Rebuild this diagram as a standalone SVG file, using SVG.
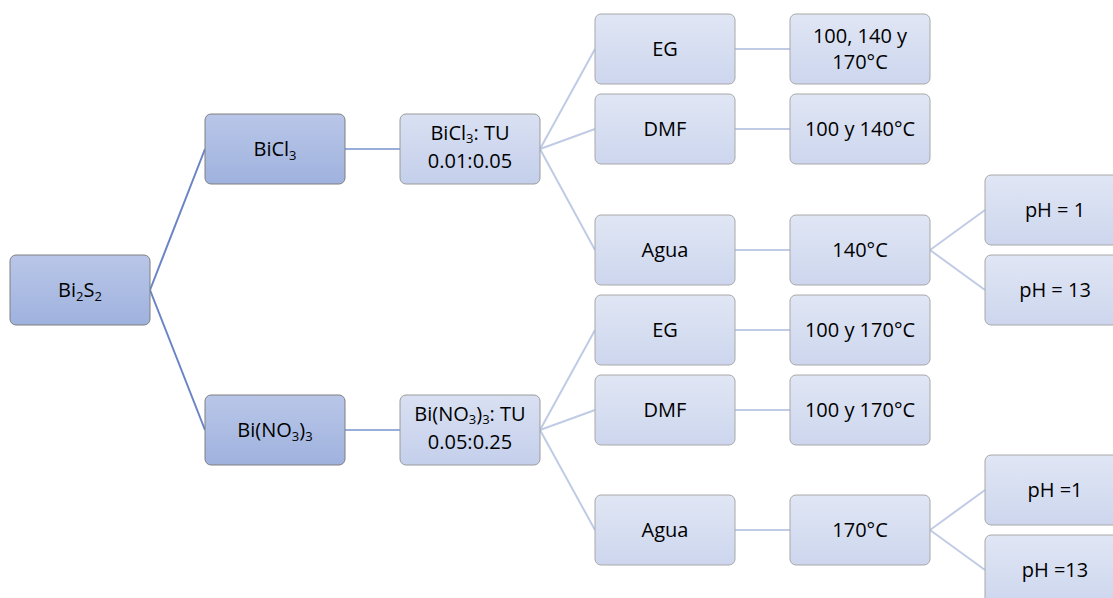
<svg xmlns="http://www.w3.org/2000/svg" width="1113" height="598" viewBox="0 0 1113 598">
<defs>
<linearGradient id="gDark" x1="0" y1="0" x2="0" y2="1"><stop offset="0" stop-color="#b9c6e8"/><stop offset="1" stop-color="#9fb2de"/></linearGradient>
<linearGradient id="gMid" x1="0" y1="0" x2="0" y2="1"><stop offset="0" stop-color="#d9e0f2"/><stop offset="1" stop-color="#c4cfeb"/></linearGradient>
<linearGradient id="gLight" x1="0" y1="0" x2="0" y2="1"><stop offset="0" stop-color="#e0e6f4"/><stop offset="1" stop-color="#cdd6ee"/></linearGradient>
</defs>
<style>
.d{fill:url(#gDark);stroke:#7f7f7f;stroke-width:1}
.m{fill:url(#gMid);stroke:#9a9a9a;stroke-width:1}
.l{fill:url(#gLight);stroke:#a8a8a8;stroke-width:1}
text{font-family:"Open Sans","Liberation Sans",sans-serif;font-size:20px;fill:#000;text-anchor:middle}
.s{font-size:13px}
.c1{stroke:#6b84c6;stroke-width:2;fill:none}
.c2{stroke:#9aaedb;stroke-width:2;fill:none}
.c3{stroke:#c0cbe5;stroke-width:2;fill:none}
</style>
<g id="connectors">
<path class="c1" d="M150,290 L205,149 M150,290 L205,430"/>
<path class="c2" d="M345,149 H400 M345,430 H400"/>
<path class="c3" d="M540,149 L595,49 M540,149 L595,129 M540,149 L595,250"/>
<path class="c3" d="M540,430 L595,330 M540,430 L595,410 M540,430 L595,530"/>
<path class="c3" d="M735,49 H790 M735,129 H790 M735,250 H790 M735,330 H790 M735,410 H790 M735,530 H790"/>
<path class="c3" d="M930,250 L985,210 M930,250 L985,290 M930,530 L985,490 M930,530 L985,570"/>
</g>
<g id="n_bi2s2"><rect class="d" x="10" y="255" width="140" height="70" rx="6"/><text x="80" y="297">Bi<tspan class="s" dy="4">2</tspan><tspan dy="-4">S</tspan><tspan class="s" dy="4">2</tspan></text></g>
<g id="n_bicl3"><rect class="d" x="205" y="114" width="140" height="70" rx="6"/><text x="275" y="156">BiCl<tspan class="s" dy="4">3</tspan></text></g>
<g id="n_bino3"><rect class="d" x="205" y="395" width="140" height="70" rx="6"/><text x="275" y="437">Bi(NO<tspan class="s" dy="4">3</tspan><tspan dy="-4">)</tspan><tspan class="s" dy="4">3</tspan></text></g>
<g id="n_bicl3tu"><rect class="m" x="400" y="114" width="140" height="70" rx="6"/><text x="470" y="140">BiCl<tspan class="s" dy="3">3</tspan><tspan dy="-3">: TU</tspan></text><text x="470" y="168">0.01:0.05</text></g>
<g id="n_bino3tu"><rect class="m" x="400" y="395" width="140" height="70" rx="6"/><text x="470" y="421">Bi(NO<tspan class="s" dy="3">3</tspan><tspan dy="-3">)</tspan><tspan class="s" dy="3">3</tspan><tspan dy="-3">: TU</tspan></text><text x="470" y="449">0.05:0.25</text></g>
<g id="n_eg1"><rect class="l" x="595" y="14" width="140" height="70" rx="6"/><text x="665" y="56">EG</text></g>
<g id="n_dmf1"><rect class="l" x="595" y="94" width="140" height="70" rx="6"/><text x="665" y="136">DMF</text></g>
<g id="n_agua1"><rect class="l" x="595" y="215" width="140" height="70" rx="6"/><text x="665" y="257">Agua</text></g>
<g id="n_eg2"><rect class="l" x="595" y="295" width="140" height="70" rx="6"/><text x="665" y="337">EG</text></g>
<g id="n_dmf2"><rect class="l" x="595" y="375" width="140" height="70" rx="6"/><text x="665" y="417">DMF</text></g>
<g id="n_agua2"><rect class="l" x="595" y="495" width="140" height="70" rx="6"/><text x="665" y="537">Agua</text></g>
<g id="n_t1"><rect class="l" x="790" y="14" width="140" height="70" rx="6"/><text x="860" y="43">100, 140 y</text><text x="860" y="69">170°C</text></g>
<g id="n_t2"><rect class="l" x="790" y="94" width="140" height="70" rx="6"/><text x="860" y="136">100 y 140°C</text></g>
<g id="n_t3"><rect class="l" x="790" y="215" width="140" height="70" rx="6"/><text x="860" y="257">140°C</text></g>
<g id="n_t4"><rect class="l" x="790" y="295" width="140" height="70" rx="6"/><text x="860" y="337">100 y 170°C</text></g>
<g id="n_t5"><rect class="l" x="790" y="375" width="140" height="70" rx="6"/><text x="860" y="417">100 y 170°C</text></g>
<g id="n_t6"><rect class="l" x="790" y="495" width="140" height="70" rx="6"/><text x="860" y="537">170°C</text></g>
<g id="n_ph1"><rect class="l" x="985" y="175" width="140" height="70" rx="6"/><text x="1055" y="217">pH = 1</text></g>
<g id="n_ph2"><rect class="l" x="985" y="255" width="140" height="70" rx="6"/><text x="1055" y="297">pH = 13</text></g>
<g id="n_ph3"><rect class="l" x="985" y="455" width="140" height="70" rx="6"/><text x="1055" y="497">pH =1</text></g>
<g id="n_ph4"><rect class="l" x="985" y="535" width="140" height="70" rx="6"/><text x="1055" y="577">pH =13</text></g>
</svg>
